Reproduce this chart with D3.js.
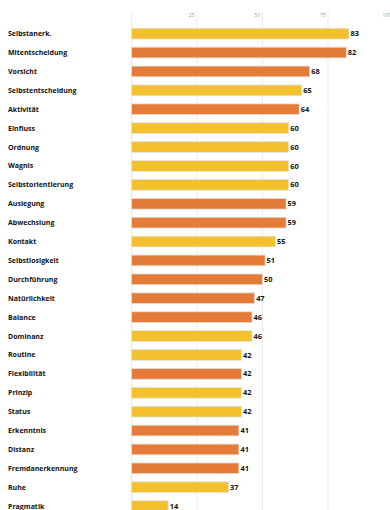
<!DOCTYPE html>
<html>
<head>
<meta charset="utf-8">
<script src="https://cdn.jsdelivr.net/npm/d3@7"></script>
<style>
  body { margin: 0; background: #fff; }
  svg { display: block; }
</style>
</head>
<body>
<div id="chart"></div>
<script>
// data
const labels = ["Selbstanerk.", "Mitentscheidung", "Vorsicht", "Selbstentscheidung", "Aktivität",
  "Einfluss", "Ordnung", "Wagnis", "Selbstorientierung", "Auslegung", "Abwechslung", "Kontakt",
  "Selbstlosigkeit", "Durchführung", "Natürlichkeit", "Balance", "Dominanz", "Routine",
  "Flexibilität", "Prinzip", "Status", "Erkenntnis", "Distanz", "Fremdanerkennung", "Ruhe", "Pragmatik"];
const values = [83, 82, 68, 65, 64, 60, 60, 60, 60, 59, 59, 55, 51, 50, 47, 46, 46, 42, 42, 42, 42, 41, 41, 41, 37, 14];
// y = yellow group, o = orange group
const groups = ["y", "o", "o", "y", "o", "y", "y", "y", "y", "o", "o", "y", "o", "o", "o", "o", "y", "y",
  "o", "y", "y", "o", "o", "o", "y", "y"];
const ticks = [0, 25, 50, 75, 100];

const width = 390, height = 510;
const colors = { y: "#f2c12d", o: "#e47b39" };

const svg = d3.select("#chart").append("svg")
  .attr("width", width)
  .attr("height", height);

const x = d3.scaleLinear().domain([0, 100]).range([131, 393]);
const y = d3.scaleBand().domain(labels).range([24.2, 24.2 + 18.9 * labels.length]).paddingInner(0.43).paddingOuter(0.215);

// grid lines
svg.append("g").selectAll("line")
  .data(ticks)
  .join("line")
  .attr("x1", d => x(d) + 0.5)
  .attr("x2", d => x(d) + 0.5)
  .attr("y1", 12)
  .attr("y2", height)
  .attr("stroke", "#ececec")
  .attr("stroke-width", 1);

// tick labels (0 is not shown)
svg.append("g").selectAll("text")
  .data(ticks.filter(d => d > 0))
  .join("text")
  .attr("x", d => x(d) - 2)
  .attr("y", 17)
  .attr("text-anchor", "end")
  .attr("font-family", "'Open Sans', sans-serif")
  .attr("font-size", "5px")
  .attr("fill", "#999")
  .text(d => d);

// bars
svg.append("g").selectAll("rect")
  .data(values)
  .join("rect")
  .attr("x", x(0) + 0.5)
  .attr("y", (d, i) => y(labels[i]))
  .attr("width", d => x(d) - x(0))
  .attr("height", y.bandwidth())
  .attr("fill", (d, i) => colors[groups[i]])
  .attr("stroke", "#e2e2e2")
  .attr("stroke-width", 0.8);

// category labels
svg.append("g").selectAll("text")
  .data(labels)
  .join("text")
  .attr("x", 8)
  .attr("y", d => y(d) + y.bandwidth() / 2)
  .attr("dy", "0.35em")
  .attr("font-family", "'Open Sans', sans-serif")
  .attr("font-weight", "bold")
  .attr("font-size", "7px")
  .attr("fill", "#111")
  .text(d => d);

// value labels
svg.append("g").selectAll("text")
  .data(values)
  .join("text")
  .attr("x", d => x(d) + 2)
  .attr("y", (d, i) => y(labels[i]) + y.bandwidth() / 2)
  .attr("dy", "0.35em")
  .attr("font-family", "'Open Sans', sans-serif")
  .attr("font-weight", "bold")
  .attr("font-size", "7.4px")
  .attr("fill", "#111")
  .text(d => d);
</script>
</body>
</html>
